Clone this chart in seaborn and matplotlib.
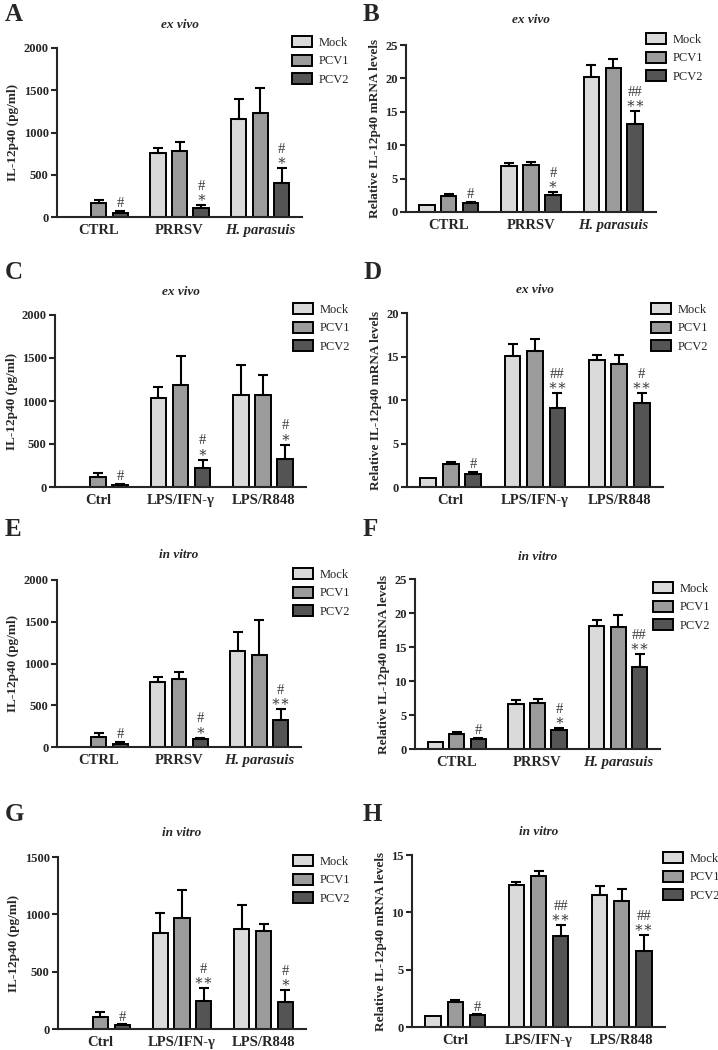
import numpy as np
import pandas as pd
import matplotlib
matplotlib.use("Agg")
import matplotlib.pyplot as plt
from matplotlib.patches import Patch
import seaborn as sns

sns.set_style("ticks")
plt.rcParams["font.family"] = ["Liberation Serif", "DejaVu Serif"]

groups = ["Mock", "PCV1", "PCV2"]
colors = ["#dadada", "#9b9b9b", "#545454"]
infect_cats = ["CTRL", "PRRSV", "H. parasuis"]
stim_cats = ["Ctrl", "LPS/IFN-γ", "LPS/R848"]
prot_label = "IL-12p40 (pg/ml)"
mrna_label = "Relative IL-12p40 mRNA levels"

# rows = Mock, PCV1, PCV2 ; columns = categories
a_mean = [[5, 760, 1155], [165, 780, 1235], [50, 105, 400]]
a_err = [[0, 52, 240], [33, 105, 290], [22, 38, 175]]
a_sig = ["#", "#\n∗", "#\n∗"]

b_mean = [[1.0, 6.9, 20.2], [2.45, 7.05, 21.5], [1.35, 2.5, 13.15]]
b_err = [[0, 0.5, 1.8], [0.25, 0.5, 1.4], [0.1, 0.5, 1.9]]
b_sig = ["#", "#\n∗", "##\n∗∗"]

c_mean = [[3, 1033, 1064], [116, 1188, 1064], [20, 220, 325]]
c_err = [[0, 135, 356], [46, 340, 236], [12, 97, 166]]
c_sig = ["#", "#\n∗", "#\n∗"]

d_mean = [[1.0, 15.1, 14.6], [2.65, 15.6, 14.15], [1.5, 9.1, 9.6]]
d_err = [[0, 1.3, 0.6], [0.22, 1.4, 1.05], [0.22, 1.7, 1.15]]
d_sig = ["#", "##\n∗∗", "#\n∗∗"]

e_mean = [[0, 777, 1155], [120, 817, 1100], [36, 100, 319]]
e_err = [[0, 60, 220], [47, 80, 422], [20, 10, 135]]
e_sig = ["#", "#\n∗", "#\n∗∗"]

f_mean = [[1.0, 6.6, 18.05], [2.2, 6.7, 17.95], [1.52, 2.85, 12.0]]
f_err = [[0, 0.6, 0.85], [0.25, 0.62, 1.7], [0.13, 0.25, 1.95]]
f_sig = ["#", "#\n∗", "##\n∗∗"]

g_mean = [[0, 839, 874], [102, 967, 859], [35, 245, 239]]
g_err = [[0, 172, 204], [49, 242, 61], [5, 110, 99]]
g_sig = ["#", "#\n∗∗", "#\n∗"]

h_mean = [[1.0, 12.4, 11.5], [2.15, 13.17, 11.0], [1.02, 7.95, 6.6]]
h_err = [[0, 0.23, 0.78], [0.2, 0.47, 1.0], [0.08, 0.93, 1.38]]
h_sig = ["#", "##\n∗∗", "##\n∗∗"]

W, H = 718, 1050
fig = plt.figure(figsize=(W / 100, H / 100), dpi=100)

# letter, title, cats, mean, err, sig, ylabel, yticks,
# axes box (l, t, r, b) px, letter pos px, title y px, legend pos px
panels = [
    ("A", "ex vivo", infect_cats, a_mean, a_err, a_sig, prot_label, [0, 500, 1000, 1500, 2000],
     (57, 48, 302, 217), (5, 3), 25, (292, 43)),
    ("B", "ex vivo", infect_cats, b_mean, b_err, b_sig, mrna_label, [0, 5, 10, 15, 20, 25],
     (406, 45, 656, 212), (363, 3), 20, (646, 40)),
    ("C", "ex vivo", stim_cats, c_mean, c_err, c_sig, prot_label, [0, 500, 1000, 1500, 2000],
     (55, 315, 306, 487), (5, 261), 292, (293, 310)),
    ("D", "ex vivo", stim_cats, d_mean, d_err, d_sig, mrna_label, [0, 5, 10, 15, 20],
     (407, 313, 663, 487), (363, 261), 290, (651, 310)),
    ("E", "in vitro", infect_cats, e_mean, e_err, e_sig, prot_label, [0, 500, 1000, 1500, 2000],
     (57, 580, 301, 747), (5, 518), 555, (293, 575)),
    ("F", "in vitro", infect_cats, f_mean, f_err, f_sig, mrna_label, [0, 5, 10, 15, 20, 25],
     (415, 579, 660, 749), (363, 518), 557, (653, 589)),
    ("G", "in vitro", stim_cats, g_mean, g_err, g_sig, prot_label, [0, 500, 1000, 1500],
     (58, 857, 306, 1029), (5, 803), 833, (293, 862)),
    ("H", "in vitro", stim_cats, h_mean, h_err, h_sig, mrna_label, [0, 5, 10, 15],
     (412, 855, 665, 1027), (363, 803), 832, (663, 859)),
]

for (letter, title, cats, mean, err, sig, ylabel, yticks,
     box, lpos, ty, legpos) in panels:
    l, t, r, b = box
    ax = fig.add_axes([l / W, 1 - b / H, (r - l) / W, (b - t) / H])
    df = pd.DataFrame({
        "cat": [c for g in groups for c in cats],
        "grp": [g for g in groups for c in cats],
        "val": [v for row in mean for v in row],
    })
    sns.barplot(data=df, x="cat", y="val", hue="grp", order=cats, hue_order=groups,
                palette=colors, errorbar=None, width=0.8, gap=0.3,
                edgecolor="black", linewidth=1.4, legend=False, ax=ax)
    ymax = yticks[-1]
    bar_conts = list(ax.containers)
    for gi, cont in enumerate(bar_conts):
        for ci, bar in enumerate(cont):
            x = bar.get_x() + bar.get_width() / 2
            h = bar.get_height()
            e = err[gi][ci]
            if e > 0:
                ax.errorbar(x, h, yerr=[[0], [e]], color="black", capsize=3.6,
                            capthick=1.5, elinewidth=1.5)
            if gi == 2:
                ax.text(x, h + e + 0.005 * ymax, sig[ci], ha="center", va="bottom",
                        fontsize=10.5, linespacing=0.85, color="#3a3a3a")
    ax.set_xlim(-0.52, 2.52)
    ax.set_ylim(0, ymax)
    ax.set_yticks(yticks)
    ax.set_xlabel("")
    ax.set_ylabel(ylabel, fontsize=9.5, fontweight="bold", labelpad=3)
    ax.tick_params(axis="y", direction="out", length=4, width=1.5, labelsize=9, pad=2)
    ax.tick_params(axis="x", length=0, labelsize=10.5, pad=5)
    for lab in ax.get_yticklabels():
        lab.set_fontweight("bold")
    for lab in ax.get_xticklabels():
        lab.set_fontweight("bold")
        if lab.get_text() == "H. parasuis":
            lab.set_style("italic")
    sns.despine(ax=ax)
    for s in ["left", "bottom"]:
        ax.spines[s].set_linewidth(1.5)

    handles = [Patch(facecolor=c, edgecolor="black", linewidth=1.4, label=g)
               for c, g in zip(colors, groups)]
    ax.legend(handles=handles, loc="upper left",
              bbox_to_anchor=(legpos[0] / W, 1 - (legpos[1] - 7) / H),
              bbox_transform=fig.transFigure, frameon=False, fontsize=9,
              handlelength=1.6, handleheight=1.0, handletextpad=0.5,
              labelspacing=0.45, borderpad=0, borderaxespad=0)

    fig.text((l + r) / 2 / W, 1 - ty / H, title, ha="center", va="center",
             fontsize=9.5, style="italic", fontweight="bold")
    fig.text(lpos[0] / W, 1 - lpos[1] / H, letter, ha="left", va="top",
             fontsize=18, fontweight="bold")

fig.savefig("out.png", dpi=100)
